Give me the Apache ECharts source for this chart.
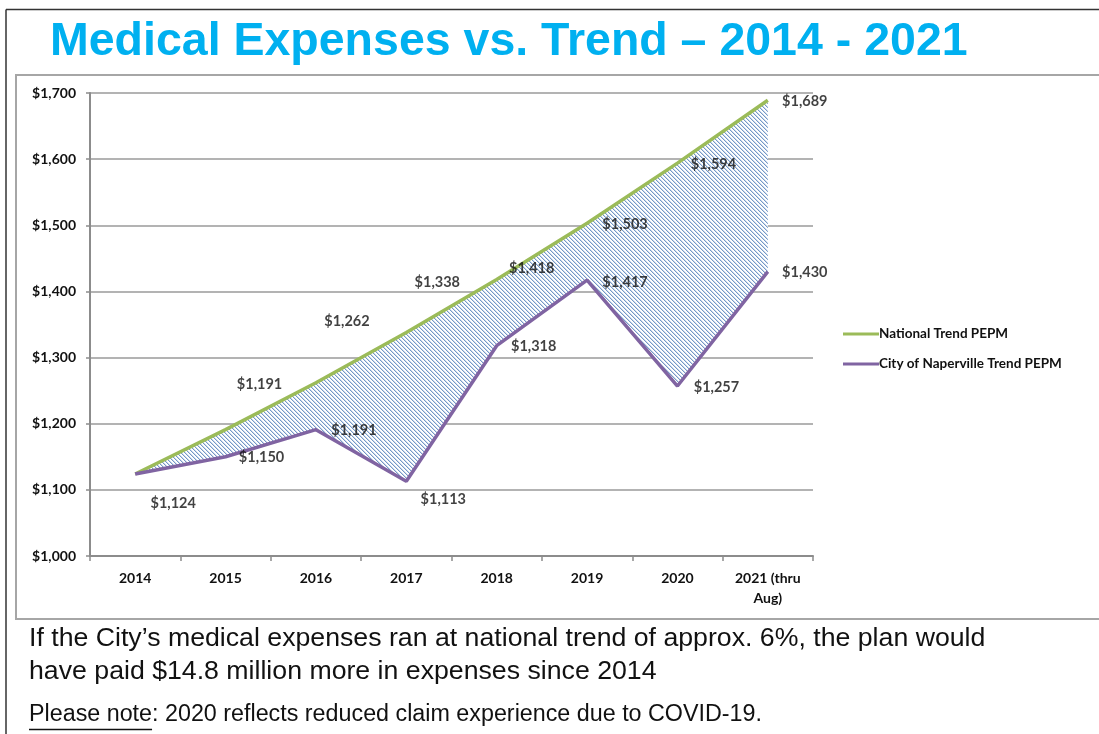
<!DOCTYPE html>
<html>
<head>
<meta charset="utf-8">
<script src="https://cdn.jsdelivr.net/npm/echarts@6/dist/echarts.min.js"></script>
<style>
html,body{margin:0;padding:0;background:#fff;}
#chart{width:1099px;height:734px;}
</style>
</head>
<body>
<div id="chart"></div>
<script>
// ---- data ----
var categories = ['2014', '2015', '2016', '2017', '2018', '2019', '2020', '2021 (thru\nAug)'];
var nationalTrend = [1124, 1191, 1262, 1338, 1418, 1503, 1594, 1689];
var cityTrend = [1124, 1150, 1191, 1113, 1318, 1417, 1257, 1430];
var yTicks = [1000, 1100, 1200, 1300, 1400, 1500, 1600, 1700];
var seriesNames = ['National Trend PEPM', 'City of Naperville Trend PEPM'];

// ---- label placement (style, offsets of label centre from its point) ----
var nationalLabelOffsets = [null, [34, -45], [31, -61], [31, -50], [35, -11], [38, 1], [36, 1], [37, 1]];
var cityLabelOffsets = [[38, 29], [36, 1], [38, 1], [37, 18], [37, 1], [38, 2], [39, 1], [37, 1]];

function fmtMoney(v) {
  return '$' + Number(v).toLocaleString('en-US');
}

// hatch pattern
var pat = document.createElement('canvas');
pat.width = 4; pat.height = 4;
var pc = pat.getContext('2d');
pc.fillStyle = '#ffffff';
pc.fillRect(0, 0, 4, 4);
for (var i = 0; i < 4; i++) {
  pc.fillStyle = '#7598c6';
  pc.fillRect(i, i, 1, 1);
  pc.fillStyle = '#cddbed';
  pc.fillRect((i + 1) % 4, i, 1, 1);
}

var gapValues = nationalTrend.map(function (v, i) { return v - cityTrend[i]; });

function labelPoints(values, offsets) {
  var out = [];
  values.forEach(function (v, i) {
    var o = offsets[i];
    if (!o) return;
    out.push({ value: [i, v], label: { offset: o } });
  });
  return out;
}

var labelFont = { fontFamily: 'Lato', fontWeight: 'bold', fontSize: 14.5, color: '#111' };

// measure underline width
var mc = document.createElement('canvas').getContext('2d');
var noteFont = 23.3;
mc.font = noteFont + 'px "Liberation Sans"';
var underlineW = mc.measureText('Please note').width;

var chart = echarts.init(document.getElementById('chart'), null, { renderer: 'canvas' });
var option = {
  animation: false,
  backgroundColor: '#ffffff',
  grid: { left: 90, right: 286, top: 93, bottom: 178, containLabel: false },
  legend: {
    data: seriesNames,
    orient: 'vertical',
    left: 838,
    top: 322,
    icon: 'rect',
    itemWidth: 36,
    itemHeight: 3,
    itemGap: 16,
    textStyle: { fontFamily: 'Lato', fontWeight: 'bold', fontSize: 13.5, color: '#111', padding: [0, 0, 0, -5] }
  },
  xAxis: {
    type: 'category',
    data: categories,
    boundaryGap: true,
    axisLine: { lineStyle: { color: '#8c8c8c', width: 2 } },
    axisTick: { show: true, length: 5, lineStyle: { color: '#8c8c8c', width: 1.5 } },
    axisLabel: { margin: 12, fontFamily: 'Lato', fontWeight: 'bold', fontSize: 14, color: '#111', lineHeight: 20 }
  },
  yAxis: {
    type: 'value',
    min: yTicks[0],
    max: yTicks[yTicks.length - 1],
    interval: 100,
    axisLine: { show: true, lineStyle: { color: '#8c8c8c', width: 2 } },
    axisTick: { show: true, length: 4, lineStyle: { color: '#8c8c8c', width: 1.5 } },
    splitLine: { lineStyle: { color: '#9a9a9a', width: 1.5 } },
    axisLabel: { margin: 14, fontFamily: 'Lato', fontWeight: 'bold', fontSize: 14, color: '#111', formatter: fmtMoney }
  },
  series: [
    {
      name: 'base', type: 'line', stack: 'gap', data: cityTrend,
      symbol: 'none', lineStyle: { opacity: 0 }, silent: true, z: 1
    },
    {
      name: 'gap', type: 'line', stack: 'gap', data: gapValues,
      symbol: 'none', lineStyle: { opacity: 0 },
      areaStyle: { color: { image: pat, repeat: 'repeat' }, opacity: 1 },
      silent: true, z: 1
    },
    {
      name: seriesNames[0], type: 'line', data: nationalTrend,
      symbol: 'none',
      itemStyle: { color: '#9BBB59' },
      lineStyle: { color: '#9BBB59', width: 3.5 },
      z: 3
    },
    {
      name: seriesNames[1], type: 'line', data: cityTrend,
      symbol: 'none',
      itemStyle: { color: '#8064A2' },
      lineStyle: { color: '#8064A2', width: 3.5 },
      z: 4
    },
    {
      name: 'nationalLabels', type: 'scatter', data: labelPoints(nationalTrend, nationalLabelOffsets),
      symbolSize: 0, silent: true, z: 5,
      label: Object.assign({ show: true, position: 'inside', formatter: function (p) { return fmtMoney(p.value[1]); } }, labelFont)
    },
    {
      name: 'cityLabels', type: 'scatter', data: labelPoints(cityTrend, cityLabelOffsets),
      symbolSize: 0, silent: true, z: 5,
      label: Object.assign({ show: true, position: 'inside', formatter: function (p) { return fmtMoney(p.value[1]); } }, labelFont)
    }
  ],
  graphic: [
    { type: 'line', shape: { x1: 6, y1: 9.5, x2: 1099, y2: 9.5 }, style: { stroke: '#333', lineWidth: 1.5 }, silent: true },
    { type: 'line', shape: { x1: 6, y1: 9.5, x2: 6, y2: 734 }, style: { stroke: '#333', lineWidth: 1.5 }, silent: true },
    { type: 'rect', shape: { x: 16, y: 75, width: 1100, height: 544 }, style: { fill: 'none', stroke: '#a6a6a6', lineWidth: 2 }, silent: true, z: -1 },
    {
      type: 'text', x: 50, y: 42,
      style: { text: 'Medical Expenses vs. Trend \u2013 2014 - 2021', fontFamily: 'Liberation Sans', fontWeight: 'bold', fontSize: 46.5, fill: '#00B0F0', textVerticalAlign: 'middle', verticalAlign: 'middle' }
    },
    {
      type: 'text', x: 29, y: 639,
      style: { text: 'If the City\u2019s medical expenses ran at national trend of approx. 6%, the plan would', fontFamily: 'Liberation Sans', fontSize: 26.7, fill: '#111', verticalAlign: 'middle', textVerticalAlign: 'middle' }
    },
    {
      type: 'text', x: 29, y: 672,
      style: { text: 'have paid $14.8 million more in expenses since 2014', fontFamily: 'Liberation Sans', fontSize: 26.7, fill: '#111', verticalAlign: 'middle', textVerticalAlign: 'middle' }
    },
    {
      type: 'text', x: 29, y: 715,
      style: { text: 'Please note: 2020 reflects reduced claim experience due to COVID-19.', fontFamily: 'Liberation Sans', fontSize: noteFont, fill: '#111', verticalAlign: 'middle', textVerticalAlign: 'middle' }
    },
    { type: 'line', shape: { x1: 29, y1: 729.5, x2: 29 + underlineW, y2: 729.5 }, style: { stroke: '#111', lineWidth: 1.4 }, silent: true }
  ]
};
chart.setOption(option);
</script>
</body>
</html>
